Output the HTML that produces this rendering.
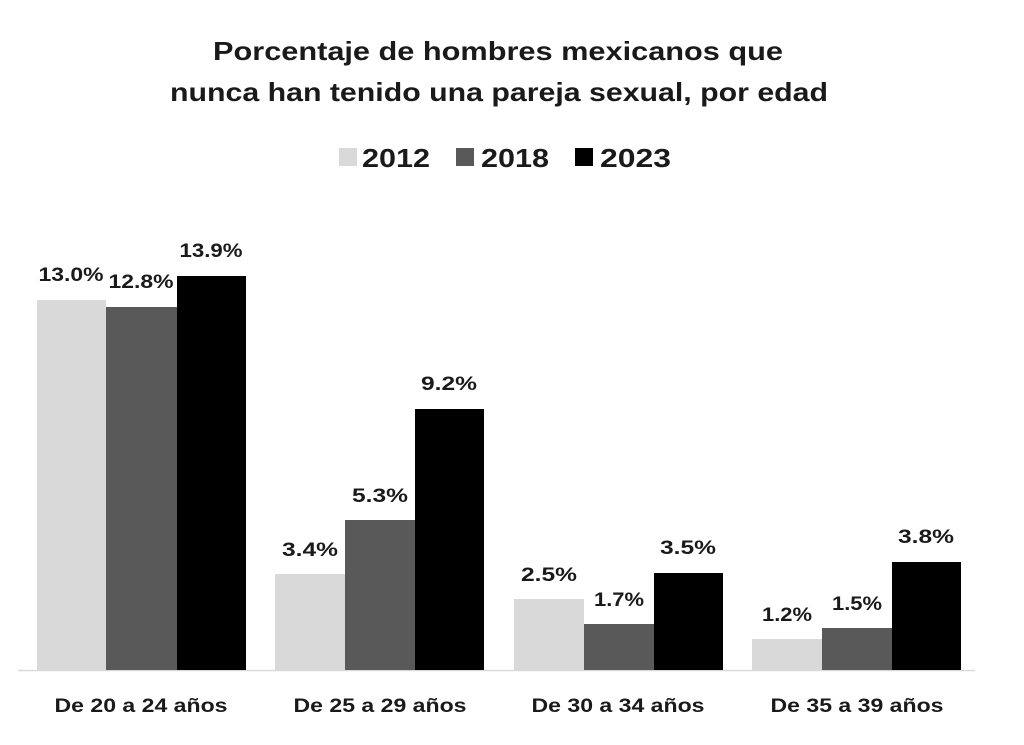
<!DOCTYPE html>
<html><head><meta charset="utf-8"><style>
html,body{margin:0;padding:0;background:#fff;}
svg{display:block;font-family:"Liberation Sans",sans-serif;}
</style></head><body>
<svg width="1024" height="745" viewBox="0 0 1024 745" xmlns="http://www.w3.org/2000/svg">
<g font-weight="bold" fill="#1a1a1a" text-anchor="middle" font-size="26">
<text x="498" y="60" textLength="570" lengthAdjust="spacingAndGlyphs">Porcentaje de hombres mexicanos que</text>
<text x="499" y="101" textLength="658" lengthAdjust="spacingAndGlyphs">nunca han tenido una pareja sexual, por edad</text>
</g>
<g font-size="26" fill="#1a1a1a" font-weight="bold">
<rect x="339" y="148" width="18" height="18" fill="#d9d9d9"/><text x="362" y="167" textLength="68" lengthAdjust="spacingAndGlyphs">2012</text>
<rect x="456" y="148" width="18" height="18" fill="#595959"/><text x="481" y="167" textLength="68" lengthAdjust="spacingAndGlyphs">2018</text>
<rect x="575" y="148" width="18" height="18" fill="#000"/><text x="600" y="167" textLength="71" lengthAdjust="spacingAndGlyphs">2023</text>
</g>
<line x1="18" y1="670.5" x2="975" y2="670.5" stroke="#d9d9d9" stroke-width="1.5"/>
<g>
<rect x="37" y="300" width="69" height="370" fill="#d9d9d9"/>
<rect x="106" y="307" width="71" height="363" fill="#595959"/>
<rect x="177" y="276" width="69" height="394" fill="#000"/>
<rect x="275" y="574" width="70" height="96" fill="#d9d9d9"/>
<rect x="345" y="520" width="70" height="150" fill="#595959"/>
<rect x="415" y="409" width="69" height="261" fill="#000"/>
<rect x="514" y="599" width="70" height="71" fill="#d9d9d9"/>
<rect x="584" y="624" width="70" height="46" fill="#595959"/>
<rect x="654" y="573" width="69" height="97" fill="#000"/>
<rect x="752" y="639" width="70" height="31" fill="#d9d9d9"/>
<rect x="822" y="628" width="70" height="42" fill="#595959"/>
<rect x="892" y="562" width="69" height="108" fill="#000"/>
</g>
<g font-size="19" fill="#1a1a1a" text-anchor="middle" font-weight="bold">
<text x="71" y="281" textLength="65" lengthAdjust="spacingAndGlyphs">13.0%</text>
<text x="141" y="288" textLength="65" lengthAdjust="spacingAndGlyphs">12.8%</text>
<text x="211" y="257" textLength="63" lengthAdjust="spacingAndGlyphs">13.9%</text>
<text x="310" y="556" textLength="56" lengthAdjust="spacingAndGlyphs">3.4%</text>
<text x="380" y="502" textLength="56" lengthAdjust="spacingAndGlyphs">5.3%</text>
<text x="449" y="390" textLength="56" lengthAdjust="spacingAndGlyphs">9.2%</text>
<text x="549" y="581" textLength="56" lengthAdjust="spacingAndGlyphs">2.5%</text>
<text x="619" y="606" textLength="50" lengthAdjust="spacingAndGlyphs">1.7%</text>
<text x="688" y="554" textLength="56" lengthAdjust="spacingAndGlyphs">3.5%</text>
<text x="787" y="621" textLength="50" lengthAdjust="spacingAndGlyphs">1.2%</text>
<text x="857" y="610" textLength="50" lengthAdjust="spacingAndGlyphs">1.5%</text>
<text x="926" y="543" textLength="56" lengthAdjust="spacingAndGlyphs">3.8%</text>
</g>
<g font-size="19" fill="#1a1a1a" text-anchor="middle" font-weight="bold">
<text x="141" y="712" textLength="173" lengthAdjust="spacingAndGlyphs">De 20 a 24 años</text>
<text x="380" y="712" textLength="173" lengthAdjust="spacingAndGlyphs">De 25 a 29 años</text>
<text x="618" y="712" textLength="173" lengthAdjust="spacingAndGlyphs">De 30 a 34 años</text>
<text x="857" y="712" textLength="173" lengthAdjust="spacingAndGlyphs">De 35 a 39 años</text>
</g>
</svg>
</body></html>
